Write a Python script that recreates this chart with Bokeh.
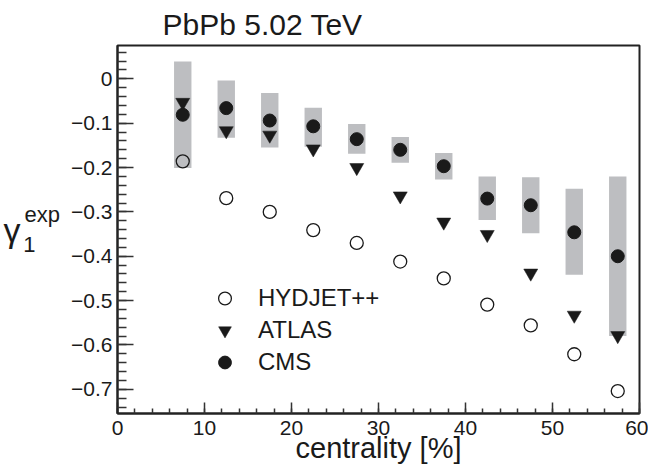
import math
from bokeh.plotting import figure
from bokeh.models import (SingleIntervalTicker, FixedTicker, CustomJSTickFormatter, Legend,
                          LegendItem, Title, LinearAxis, ColumnDataSource)
from bokeh.embed import file_html
from bokeh.resources import INLINE

# ---- data ----
centrality = [7.5, 12.5, 17.5, 22.5, 27.5, 32.5, 37.5, 42.5, 47.5, 52.5, 57.5]
hydjet = [-0.186, -0.269, -0.300, -0.341, -0.370, -0.412, -0.450, -0.509, -0.556, -0.621, -0.704]
atlas = [-0.053, -0.117, -0.127, -0.158, -0.200, -0.264, -0.323, -0.351, -0.438, -0.533, -0.579]
cms = [-0.081, -0.066, -0.094, -0.107, -0.136, -0.160, -0.197, -0.270, -0.285, -0.346, -0.400]
cms_sys_hi = [0.039, -0.004, -0.032, -0.065, -0.102, -0.131, -0.167, -0.220, -0.222, -0.248, -0.220]
cms_sys_lo = [-0.201, -0.133, -0.155, -0.153, -0.169, -0.189, -0.227, -0.318, -0.348, -0.442, -0.580]

title_text = "PbPb 5.02 TeV"
xlabel_text = "centrality [%]"
NB = "\u00a0"

FONT = "Liberation Sans"
INK = "#1a1a1a"

p = figure(width=648, height=466, x_range=(0, 60), y_range=(-0.7546, 0.0752),
           output_backend="svg", toolbar_location=None, title=None,
           min_border_left=115, min_border_right=9, min_border_top=38, min_border_bottom=53)
p.xgrid.visible = False
p.ygrid.visible = False
p.outline_line_color = "#222222"
p.outline_line_width = 2
p.background_fill_color = "white"
p.border_fill_color = "white"

src = ColumnDataSource(dict(x=centrality, h=hydjet, a=atlas, c=cms, hi=cms_sys_hi, lo=cms_sys_lo))

p.vbar(x="x", width=2, top="hi", bottom="lo", source=src, fill_color="#bdbec1", line_color=None)
r_h = p.scatter("x", "h", source=src, marker="circle", size=13, fill_color=None,
                line_color=INK, line_width=1.3)
r_a = p.scatter("x", "a", source=src, marker="inverted_triangle", size=14, fill_color=INK,
                line_color=INK, line_width=0.5)
r_c = p.scatter("x", "c", source=src, marker="circle", size=13, fill_color=INK,
                line_color=INK, line_width=1)

# axes
xa = p.xaxis[0]
xa.ticker = SingleIntervalTicker(interval=10, num_minor_ticks=5)
xa.major_tick_in = 11
xa.major_tick_out = 0
xa.minor_tick_in = 5
xa.minor_tick_out = 0
ya = p.yaxis[0]
ya.ticker = SingleIntervalTicker(interval=0.1, num_minor_ticks=5)
ya.major_tick_in = 16
ya.major_tick_out = 0
ya.minor_tick_in = 9
ya.minor_tick_out = 0
ya.formatter = CustomJSTickFormatter(code="""
const v = Math.round(tick*10)/10;
if (Math.abs(v) < 1e-9) { return "0"; }
return (v < 0 ? "\\u2212" : "") + Math.abs(v).toFixed(1);
""")
for ax in (xa, ya):
    ax.axis_line_color = "#222222"
    ax.axis_line_width = 2
    ax.major_tick_line_color = "#333333"
    ax.major_tick_line_width = 1.5
    ax.minor_tick_line_color = "#333333"
    ax.minor_tick_line_width = 1.5
    ax.major_label_text_font = FONT
    ax.major_label_text_font_size = "21px"
    ax.major_label_text_color = INK
xa.major_label_standoff = 7
ya.major_label_standoff = 5

xa.axis_label = xlabel_text
xa.axis_label_text_font = FONT
xa.axis_label_text_font_size = "29px"
xa.axis_label_text_font_style = "normal"
xa.axis_label_text_color = INK
xa.axis_label_standoff = -6

# y-axis title gamma_1^exp: super/subscript as the main axis label, gamma as a label-only axis
ya.axis_label = "exp\n1" + NB * 4
ya.axis_label_text_font = FONT
ya.axis_label_text_font_size = "22px"
ya.axis_label_text_font_style = "normal"
ya.axis_label_text_color = INK
ya.axis_label_standoff = 8
ya.axis_label_orientation = "horizontal"

gamma_axis = LinearAxis(ticker=FixedTicker(ticks=[]), axis_line_color=None,
                        major_tick_line_color=None, minor_tick_line_color=None,
                        major_tick_in=0, major_tick_out=0, minor_tick_in=0, minor_tick_out=0,
                        major_label_standoff=0, major_label_text_font_size="1px",
                        axis_label="\u03b3", axis_label_text_font=FONT,
                        axis_label_text_font_size="34px", axis_label_text_font_style="normal",
                        axis_label_text_color=INK, axis_label_standoff=0,
                        axis_label_orientation="horizontal")
p.add_layout(gamma_axis, "left")

# legend
legend = Legend(items=[LegendItem(label="HYDJET++", renderers=[r_h]),
                       LegendItem(label="ATLAS", renderers=[r_a]),
                       LegendItem(label="CMS", renderers=[r_c])],
                location=(90, 35), glyph_width=35, glyph_height=32, spacing=0,
                label_standoff=16, padding=0, margin=0,
                border_line_color=None, background_fill_alpha=0,
                label_text_font=FONT, label_text_font_size="24px", label_text_color=INK)
p.add_layout(legend)

# title above the frame
p.add_layout(Title(text=title_text, align="left", offset=45, standoff=10,
                   vertical_align="bottom", text_font=FONT, text_font_size="30px",
                   text_font_style="normal", text_color=INK), "above")

open("out.html", "w").write(file_html(p, INLINE))
